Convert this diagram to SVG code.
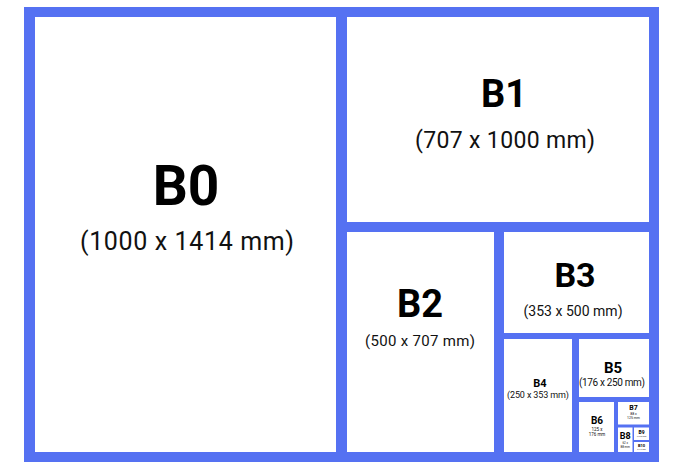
<svg xmlns="http://www.w3.org/2000/svg" width="685" height="468" viewBox="0 0 685 468">
<style>
.sheet{fill:#ffffff}
.t{font-family:Roboto,"Liberation Sans",sans-serif;font-weight:bold;fill:#000;text-anchor:middle}
.s{font-family:Roboto,"Liberation Sans",sans-serif;fill:#111;text-anchor:middle}
</style>
<rect width="685" height="468" fill="#ffffff"/>
<rect id="frame" x="24" y="7" width="635" height="455" fill="#5571F2"/>
<g id="B0"><rect class="sheet" x="35" y="17" width="301" height="435"/>
<text class="t" x="186" y="205" font-size="55">B0</text>
<text class="s" x="187" y="250" font-size="25" textLength="214" lengthAdjust="spacing">(1000 x 1414 mm)</text></g>
<g id="B1"><rect class="sheet" x="347" y="17" width="302" height="205"/>
<text class="t" x="504" y="107" font-size="38">B1</text>
<text class="s" x="505" y="148" font-size="23" textLength="180" lengthAdjust="spacing">(707 x 1000 mm)</text></g>
<g id="B2"><rect class="sheet" x="347" y="232" width="147" height="220"/>
<text class="t" x="420" y="317" font-size="38">B2</text>
<text class="s" x="420" y="346" font-size="15" textLength="110" lengthAdjust="spacing">(500 x 707 mm)</text></g>
<g id="B3"><rect class="sheet" x="504" y="232" width="145" height="101"/>
<text class="t" x="575" y="287" font-size="34">B3</text>
<text class="s" x="573" y="316" font-size="14" textLength="99" lengthAdjust="spacing">(353 x 500 mm)</text></g>
<g id="B4"><rect class="sheet" x="504" y="339" width="68" height="113"/>
<text class="t" x="540" y="387" font-size="11">B4</text>
<text class="s" x="538" y="398" font-size="9" textLength="62" lengthAdjust="spacing">(250 x 353 mm)</text></g>
<g id="B5"><rect class="sheet" x="579" y="339" width="70" height="58"/>
<text class="t" x="613" y="373" font-size="15">B5</text>
<text class="s" x="612" y="386" font-size="10" textLength="66" lengthAdjust="spacing">(176  x 250 mm)</text></g>
<g id="B6"><rect class="sheet" x="579" y="402" width="35" height="50"/>
<text class="t" x="597" y="424" font-size="10">B6</text>
<text class="s" x="597" y="431" font-size="4.5">125 x</text>
<text class="s" x="597" y="436" font-size="4.5">176 mm</text></g>
<g id="B7"><rect class="sheet" x="618" y="402" width="31" height="22.5"/>
<text class="t" x="633.5" y="409.5" font-size="7">B7</text>
<text class="s" x="633.5" y="415" font-size="3.5">88 x</text>
<text class="s" x="633.5" y="419" font-size="3.5">125 mm</text></g>
<g id="B8"><rect class="sheet" x="618" y="427.5" width="14.5" height="24.5"/>
<text class="t" x="625.2" y="439" font-size="9">B8</text>
<text class="s" x="625.2" y="443.5" font-size="3">62 x</text>
<text class="s" x="625.2" y="447.5" font-size="3">88 mm</text></g>
<g id="B9"><rect class="sheet" x="634" y="427.5" width="15" height="12.5"/>
<text class="t" x="641.5" y="433.5" font-size="5">B9</text>
<text class="s" x="641.5" y="437" font-size="1.8">44 x 62 mm</text></g>
<g id="B10"><rect class="sheet" x="634" y="442" width="15" height="10"/>
<text class="t" x="641.5" y="446.5" font-size="4">B10</text>
<text class="s" x="641.5" y="449.5" font-size="1.6">31 x 44 mm</text></g>
<g id="connectors"></g>
</svg>
